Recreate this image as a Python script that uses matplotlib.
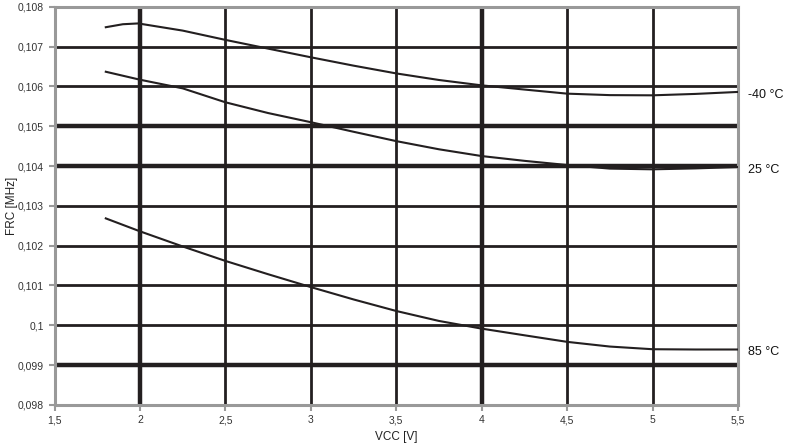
import matplotlib.pyplot as plt
from matplotlib.ticker import FuncFormatter, MultipleLocator

plt.rcParams['font.family'] = ['Liberation Sans', 'DejaVu Sans']

# Daten
vcc_m40 = [1.8, 1.9, 1.99, 2.25, 2.5, 2.69, 3.0, 3.25, 3.5, 3.75, 4.0, 4.25, 4.5, 4.75, 5.0, 5.25, 5.5]
frc_m40 = [0.107485, 0.10756, 0.10758, 0.10740, 0.107167, 0.10700, 0.10673, 0.10652, 0.106325, 0.10616,
           0.106025, 0.10592, 0.105817, 0.10578, 0.105775, 0.10581, 0.10586]

vcc_25 = [1.8, 2.0, 2.25, 2.5, 2.75, 3.0, 3.25, 3.5, 3.75, 4.0, 4.25, 4.5, 4.75, 5.0, 5.25, 5.5]
frc_25 = [0.106367, 0.106167, 0.10595, 0.1056, 0.10533, 0.10510, 0.10486, 0.104625, 0.10442, 0.10425,
          0.10413, 0.104025, 0.103935, 0.103917, 0.10394, 0.103975]

vcc_85 = [1.8, 2.0, 2.25, 2.5, 2.75, 3.0, 3.25, 3.5, 3.75, 4.0, 4.25, 4.5, 4.75, 5.0, 5.25, 5.5]
frc_85 = [0.102685, 0.10236, 0.10198, 0.101617, 0.101283, 0.10096, 0.10065, 0.10036, 0.10011, 0.099917,
          0.09975, 0.099585, 0.099467, 0.0994, 0.099393, 0.099393]

labels = ['-40 °C', '25 °C', '85 °C']

grid_dick_x = [2, 4]
grid_dick_y = [0.105, 0.104, 0.099]

fig = plt.figure(figsize=(7.87, 4.47), dpi=100)
ax = fig.add_axes([0.0693, 0.094, 0.8684, 0.891])

ax.set_xlim(1.5, 5.5)
ax.set_ylim(0.098, 0.108)
ax.xaxis.set_major_locator(MultipleLocator(0.5))
ax.yaxis.set_major_locator(MultipleLocator(0.001))

gc = '#231f20'
for x in [2, 2.5, 3, 3.5, 4, 4.5, 5]:
    ax.axvline(x, color=gc, lw=3.2 if x in grid_dick_x else 2.0, zorder=1)
for y in [0.099, 0.1, 0.101, 0.102, 0.103, 0.104, 0.105, 0.106, 0.107]:
    ax.axhline(y, color=gc, lw=3.2 if round(y, 3) in grid_dick_y else 2.0, zorder=1)

for xs, ys, lab in zip([vcc_m40, vcc_25, vcc_85], [frc_m40, frc_25, frc_85], labels):
    ax.plot(xs, ys, color=gc, lw=1.5, zorder=3)
    ax.annotate(lab, xy=(1, ys[-1]), xycoords=('axes fraction', 'data'),
                xytext=(7, -2), textcoords='offset points', va='center', ha='left',
                fontsize=9, color='#111111', annotation_clip=False)

komma = FuncFormatter(lambda v, p: ('%g' % round(v, 4)).replace('.', ','))
ax.xaxis.set_major_formatter(komma)
ax.yaxis.set_major_formatter(komma)

for s in ax.spines.values():
    s.set_color('#999999')
    s.set_linewidth(2.2)
ax.tick_params(colors='#999999', labelcolor='#333333', labelsize=7.5, length=4, width=1.5)

ax.set_xlabel('VCC [V]', fontsize=8.5, color='#222222')
ax.set_ylabel('FRC [MHz]', fontsize=8.5, color='#222222')
ax.xaxis.set_label_coords(0.5, -0.066)
ax.yaxis.set_label_coords(-0.053, 0.5)

plt.savefig('out.png', dpi=100)
